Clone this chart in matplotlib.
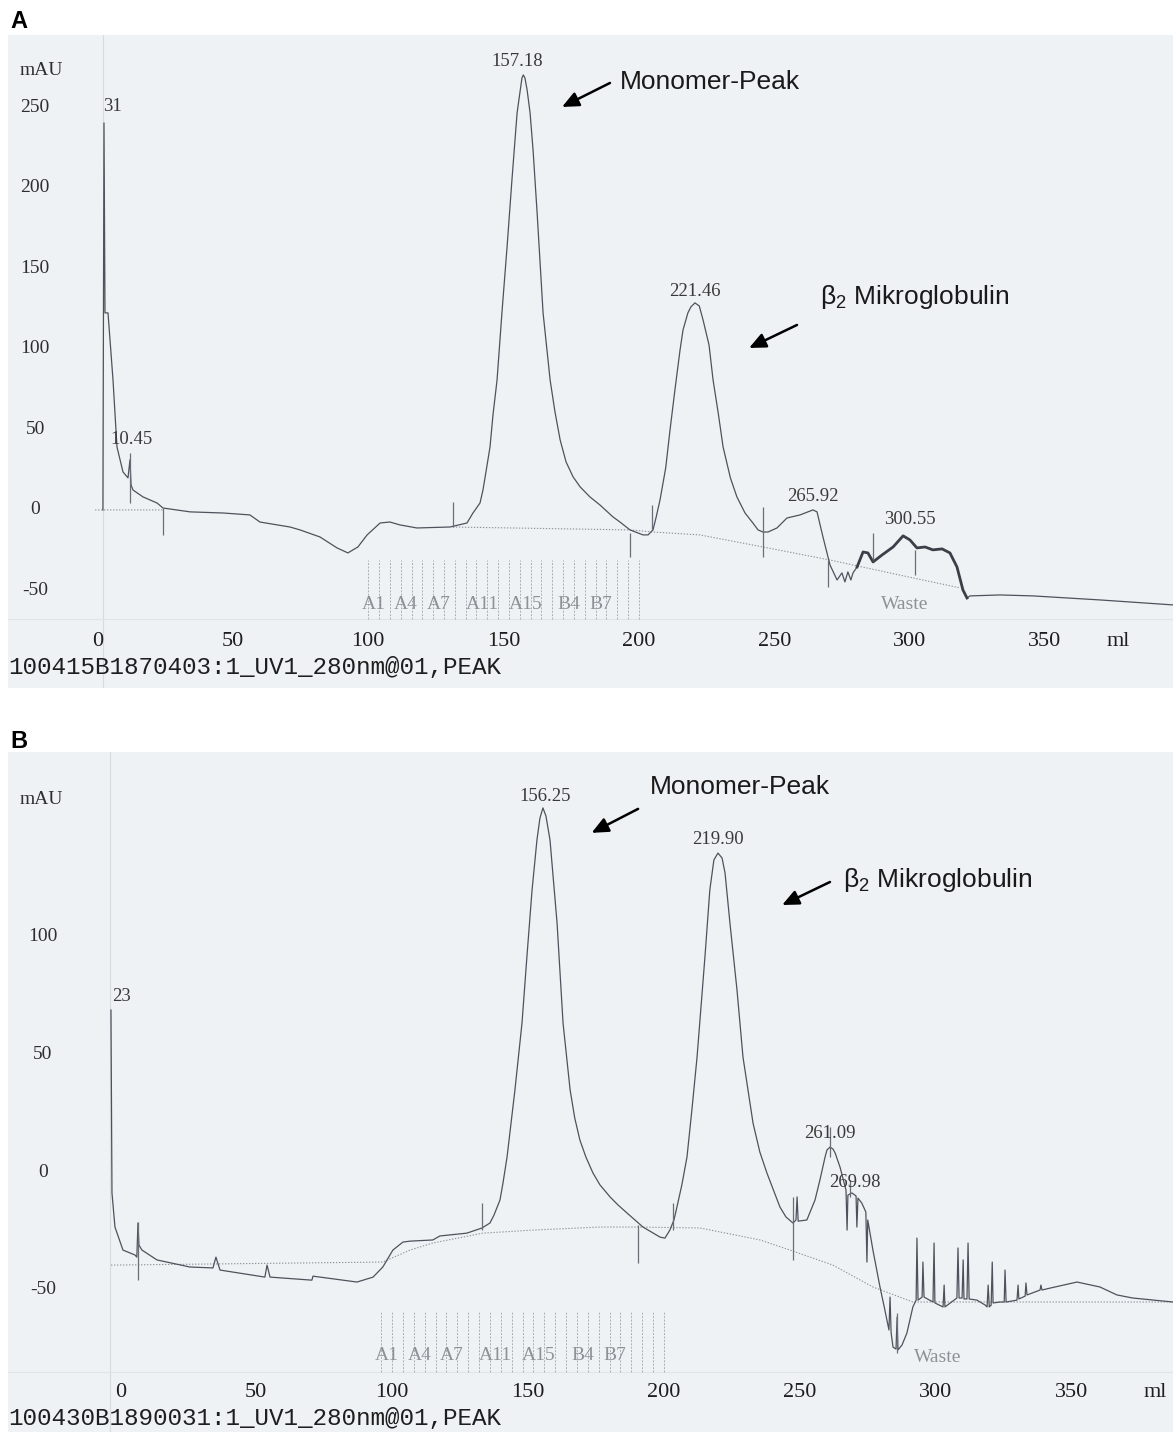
import numpy as np
import matplotlib
matplotlib.use("Agg")
import matplotlib.pyplot as plt

plt.rcParams['mathtext.fontset'] = 'custom'
plt.rcParams['mathtext.rm'] = 'Liberation Sans'

SERIF = 'Liberation Serif'
SANS = 'Liberation Sans'
MONO = 'Liberation Mono'

BG = '#eff2f4'
TRACE = '#4e525c'
BASE = '#8d929b'

# ---- panel A: UV 280 nm trace, (ml, mAU) ----
a_trace = [
    (2.0, 0.0), (2.4, 240.4), (2.77, 122.4), (3.88, 122.4), (5.73, 80.7), (7.2, 39.1),
    (9.42, 23.6), (11.27, 19.9), (12.0, 31.1), (12.4, 15.5), (13.1, 12.4), (16.8, 8.1),
    (22.0, 4.3), (24.2, 1.2), (34.2, -1.2), (46.4, -1.9), (56.3, -3.1), (60.0, -7.5),
    (71.1, -10.6), (74.8, -12.4), (82.2, -16.8), (88.5, -23.6), (92.5, -26.7), (96.2, -23.0),
    (99.6, -15.5), (104.4, -8.1), (108.0, -7.5), (111.7, -9.3), (118.0, -11.2), (130.2, -10.6),
    (136.5, -8.1), (138.7, -1.9), (141.3, 4.3), (142.4, 12.4), (143.5, 23.6), (145.0, 39.1),
    (146.1, 59.0), (147.6, 80.7), (149.4, 122.4), (151.3, 163.4), (153.1, 205.0),
    (155.0, 246.6), (156.1, 259.9), (156.8, 268.3), (157.3, 270.2), (157.9, 268.3),
    (158.7, 260.9), (159.8, 246.6), (160.9, 223.6), (162.4, 184.5), (164.6, 122.4),
    (167.2, 80.7), (169.0, 60.9), (170.9, 43.5), (173.1, 29.8), (175.7, 20.5), (178.3, 14.3),
    (181.9, 8.1), (185.6, 3.1), (190.4, -4.3), (193.0, -7.5), (196.7, -12.4), (201.5, -15.5),
    (203.4, -15.5), (205.2, -12.4), (206.3, -5.0), (207.8, 6.2), (209.9, 26.1), (211.5, 49.7),
    (213.3, 74.5), (215.2, 99.4), (216.3, 111.8), (218.1, 122.4), (219.2, 126.1),
    (220.7, 128.6), (222.3, 126.7), (223.7, 118.0), (225.9, 102.5), (227.4, 80.7),
    (229.3, 60.2), (231.1, 39.1), (233.8, 19.9), (236.2, 8.1), (239.2, -1.9), (242.1, -8.1),
    (244.0, -12.4), (245.8, -13.7), (247.7, -13.7), (251.0, -11.2), (254.7, -5.0),
    (259.5, -3.1), (264.3, 0.0), (265.8, -1.2), (268.0, -16.8), (270.6, -34.2),
    (273.2, -43.5), (275.0, -39.1), (276.1, -44.7), (277.2, -38.5), (278.3, -43.5),
    (279.1, -39.1), (280.6, -35.4), (282.8, -26.1), (284.6, -26.7), (286.5, -32.3),
    (289.8, -28.0), (293.9, -23.0), (297.6, -16.1), (300.1, -18.6), (302.7, -23.6),
    (305.7, -23.0), (308.6, -24.8), (312.0, -24.2), (314.9, -26.7), (317.5, -35.4),
    (319.7, -49.7), (321.2, -54.7), (322.3, -53.4), (333.4, -52.8), (345.6, -53.4),
    (370.3, -55.9), (397.3, -59.0),
]
a_base_ml = [-0.9, 24.2, np.nan, 131.3, 196.7, 205.2, 222.5, 245.8, 270.6, 301.2, 318.6]
a_base_mau = [0.0, 0.0, np.nan, -10.6, -12.4, -13.7, -15.5, -23.0, -31.1, -42.2, -48.4]
a_marks_ml = [12.0, 24.2, 131.3, 196.7, 204.8, 245.8, 269.9, 286.5, 302.0]
a_marks_lo = [4.3, -15.5, -10.6, -29.2, -12.4, -29.2, -47.8, -31.1, -40.4]
a_marks_hi = [35.4, 1.2, 5.0, -14.3, 3.1, 1.9, -31.1, -14.3, -24.8]
a_peak_text = ["31", "10.45", "157.18", "221.46", "265.92", "300.55"]
a_peak_ml = [5.4, 12.7, 155.0, 220.7, 264.3, 300.1]
a_peak_mau = [250.3, 43.5, 278.3, 135.4, 8.1, -6.2]
a_frac_lines = list(range(100, 201, 4))
a_yticks = [250, 200, 150, 100, 50, 0, -50]

# ---- panel B ----
b_trace = [
    (-3.42, 68.9), (-3.05, -8.9), (-1.95, -23.4), (0.99, -33.2), (5.41, -35.3), (6.1, -36.2),
    (6.51, -21.7), (6.88, -31.1), (7.98, -33.2), (13.5, -37.4), (25.6, -40.4), (34.1, -40.8),
    (35.2, -36.2), (36.7, -41.7), (53.2, -44.7), (54.0, -39.6), (55.1, -44.7), (70.5, -46.0),
    (70.9, -44.3), (87.1, -46.8), (93.0, -44.7), (96.6, -40.4), (100.3, -33.2), (104.0, -29.8),
    (106.6, -29.4), (115.0, -28.9), (117.6, -27.2), (127.5, -26.0), (133.1, -23.8),
    (136.0, -21.7), (137.5, -18.3), (139.7, -11.9), (140.8, -4.7), (142.3, 6.4), (143.7, 20.0),
    (145.2, 34.9), (147.8, 63.4), (149.6, 91.5), (151.5, 120.0), (152.6, 132.8),
    (153.3, 141.3), (154.4, 150.6), (155.5, 154.9), (156.6, 151.5), (158.1, 141.3),
    (159.2, 126.4), (160.7, 105.9), (162.9, 63.4), (165.5, 34.9), (167.2, 23.0), (169.1, 13.6),
    (171.3, 6.4), (173.9, -0.4), (176.5, -5.5), (180.2, -10.6), (183.1, -14.0), (186.4, -17.4),
    (192.3, -23.4), (198.6, -27.7), (200.4, -28.1), (202.2, -24.7), (203.7, -20.4),
    (204.8, -14.9), (206.6, -5.5), (208.5, 6.4), (210.3, 26.4), (212.2, 48.9), (215.1, 91.5),
    (216.9, 120.0), (218.4, 132.8), (219.9, 135.7), (221.4, 133.6), (222.5, 127.2),
    (224.3, 105.9), (226.9, 77.4), (229.1, 48.9), (232.8, 20.8), (235.3, 8.5), (237.9, -0.4),
    (242.7, -14.9), (244.9, -19.1), (247.5, -21.7), (248.6, -20.4), (249.0, -10.6),
    (249.4, -20.9), (252.6, -20.4), (255.6, -11.9), (257.4, -3.4), (259.3, 6.4), (260.0, 9.4),
    (261.1, 10.6), (262.2, 9.8), (263.0, 8.1), (264.8, 2.1), (267.0, -7.7), (267.4, -24.7),
    (267.7, -9.8), (269.2, -8.9), (270.7, -10.2), (271.0, -23.4), (271.4, -11.1),
    (272.8, -13.2), (274.3, -17.0), (274.7, -38.3), (275.0, -20.4), (276.9, -33.2),
    (279.5, -48.9), (281.3, -58.7), (282.8, -67.2), (283.2, -53.2), (283.6, -68.5),
    (284.3, -74.5), (285.4, -75.3), (285.8, -61.7), (286.1, -75.7), (287.6, -73.6),
    (289.4, -68.5), (291.6, -57.4), (292.8, -54.5), (293.1, -28.1), (293.5, -54.5),
    (295.0, -53.2), (295.3, -38.3), (295.7, -53.2), (299.0, -55.3), (299.4, -30.2),
    (299.7, -55.7), (302.7, -57.4), (303.1, -48.1), (303.4, -57.4), (307.8, -53.6),
    (308.2, -32.3), (308.6, -53.6), (309.7, -53.6), (310.1, -37.4), (310.4, -54.0),
    (311.5, -54.0), (311.9, -30.2), (312.3, -54.0), (315.2, -54.5), (318.2, -56.6),
    (318.9, -57.4), (319.3, -48.1), (319.7, -57.4), (320.4, -56.6), (320.8, -38.3),
    (321.1, -55.7), (323.7, -55.3), (325.2, -55.3), (325.5, -41.7), (325.9, -55.3),
    (329.9, -54.5), (330.3, -48.1), (330.6, -54.0), (332.9, -52.8), (333.2, -47.2),
    (333.6, -52.3), (338.4, -50.2), (338.7, -48.1), (339.1, -50.2), (342.0, -49.4),
    (352.0, -46.8), (360.4, -48.9), (366.7, -52.3), (372.5, -53.6), (387.3, -55.3),
]
b_base_ml = [-3.4, 96.6, 106.6, 115.0, 133.4, 151.8, 176.5, 190.1, 213.3, 235.4, 246.4, 262.2,
             276.9, 291.6, 387.3]
b_base_mau = [-39.6, -38.3, -33.2, -30.2, -26.0, -24.7, -23.4, -23.4, -23.8, -28.9, -33.2, -39.6,
              -48.9, -55.3, -55.3]
b_marks_ml = [6.5, 133.1, 190.5, 203.3, 247.5, 261.1, 268.4, 285.8]
b_marks_lo = [-46.0, -24.7, -38.7, -24.7, -37.4, 6.4, -10.6, -77.0]
b_marks_hi = [-21.3, -13.2, -22.6, -13.2, -10.6, 19.1, -3.4, -60.0]
b_peak_text = ["23", "156.25", "219.90", "261.09", "269.98"]
b_peak_ml = [0.3, 156.2, 219.9, 261.1, 270.3]
b_peak_mau = [74.5, 159.6, 141.3, 16.6, -4.3]
b_frac_lines = list(range(96, 201, 4))
b_yticks = [100, 50, 0, -50]

xticks = [0, 50, 100, 150, 200, 250, 300, 350]
frac_names = ["A1", "A4", "A7", "A11", "A15", "B4", "B7"]
frac_index = [1, 4, 7, 11, 15, 19, 22]

ARROW = dict(arrowstyle='-|>,head_length=1.0,head_width=0.45', color='black', lw=1.8,
             shrinkA=0, shrinkB=0)


def draw_panel(ax, trace, base_ml, base_mau, marks_ml, marks_lo, marks_hi,
               peak_text, peak_ml, peak_mau, frac_lines, yticks, lay):
    ml = np.array([p[0] for p in trace])
    mau = np.array([p[1] for p in trace])
    ax.set_facecolor(BG)
    ax.set_xlim(lay['xlim'])
    ax.set_ylim(lay['ylim'])
    for s in ax.spines.values():
        s.set_visible(False)
    ax.set_xticks([])
    ax.set_yticks([])

    # faint axis remnants of the printout
    ax.axvline(lay['axis_x'], color='#d6dbe0', lw=0.8, zorder=1)
    ax.axhline(lay['frac_bottom'], color='#dfe4e8', lw=0.8, zorder=1)

    ax.plot(base_ml, base_mau, color=BASE, lw=0.8, ls=(0, (1.2, 1.5)), zorder=2)
    ax.plot(ml, mau, color=TRACE, lw=0.9, zorder=3)
    if lay.get('bold'):
        sel = (ml >= lay['bold'][0]) & (ml <= lay['bold'][1])
        ax.plot(ml[sel], mau[sel], color='#3c3f47', lw=2.0, zorder=3)

    ax.vlines(marks_ml, marks_lo, marks_hi, color='#6a6e77', lw=0.9, zorder=3)

    for t, x, y in zip(peak_text, peak_ml, peak_mau):
        ax.text(x, y, t, family=SERIF, fontsize=13.5, color='#3a3a3a',
                ha='center', va='center', zorder=4)

    # fraction collector marks
    ax.vlines(frac_lines, lay['frac_bottom'], lay['frac_top'], color='#a9aeb5',
              lw=0.7, ls=(0, (2, 1.5)), zorder=2)
    for name, k in zip(frac_names, frac_index):
        ax.text(frac_lines[0] + 4 * (k - 1) + 2, lay['frac_label_y'], name, family=SERIF,
                fontsize=14, color='#8e9298', ha='center', va='center', zorder=4)
    ax.text(lay['waste'][0], lay['waste'][1], "Waste", family=SERIF, fontsize=14,
            color='#8e9298', ha='center', va='center')

    for v in yticks:
        ax.text(lay['ylab_x'], v, str(v), family=SERIF, fontsize=14, color='#2e2e2e',
                ha='center', va='center')
    ax.text(lay['mau'][0], lay['mau'][1], "mAU", family=SERIF, fontsize=14, color='#2e2e2e',
            ha='left', va='center')
    for v in xticks:
        ax.text(v, lay['xlab_y'], str(v), family=SERIF, fontsize=16, color='#1e1e1e',
                ha='center', va='center')
    ax.text(lay['ml'][0], lay['xlab_y'], "ml", family=SERIF, fontsize=16, color='#1e1e1e',
            ha='center', va='center')

    # annotations added on top of the printout
    ax.text(lay['mono_text'][0], lay['mono_text'][1], "Monomer-Peak", family=SANS,
            fontsize=19, color='#1a1a1a', ha='left', va='center')
    ax.annotate("", xy=lay['mono_head'], xytext=lay['mono_tail'], arrowprops=ARROW)
    ax.text(lay['b2_text'][0], lay['b2_text'][1], r"β$_2$ Mikroglobulin", family=SANS,
            fontsize=19, color='#1a1a1a', ha='left', va='center')
    ax.annotate("", xy=lay['b2_head'], xytext=lay['b2_tail'], arrowprops=ARROW)


W, H = 1173, 1432
fig = plt.figure(figsize=(W / 100, H / 100), dpi=100)
fig.patch.set_facecolor('white')

axA = fig.add_axes([8 / W, 1 - 688 / H, 1165 / W, 653 / H])
draw_panel(axA, a_trace, a_base_ml, a_base_mau, a_marks_ml, a_marks_lo, a_marks_hi,
           a_peak_text, a_peak_ml, a_peak_mau, a_frac_lines, a_yticks,
           dict(xlim=(-33.06, 397.3), ylim=(-110.6, 295.0), axis_x=2.0,
                frac_bottom=-68, frac_top=-31, frac_label_y=-59, waste=(298.3, -59.0),
                ylab_x=-23.0, mau=(-28.6, 273), xlab_y=-82, ml=(377, -82),
                bold=(280, 322),
                mono_text=(193.0, 265.8), mono_tail=(189.3, 265.2), mono_head=(171.6, 250.3),
                b2_text=(266.9, 132.3), b2_tail=(258.4, 114.9), b2_head=(240.7, 100.6)))
axA.text(-33.06, -98, "100415B1870403:1_UV1_280nm@01,PEAK", family=MONO, fontsize=17.5,
         color='#1e1e1e', ha='left', va='center')

axB = fig.add_axes([8 / W, 0, 1165 / W, 680 / H])
draw_panel(axB, b_trace, b_base_ml, b_base_mau, b_marks_ml, b_marks_lo, b_marks_hi,
           b_peak_text, b_peak_ml, b_peak_mau, b_frac_lines, b_yticks,
           dict(xlim=(-41.3, 387.3), ylim=(-110.6, 178.7), axis_x=-3.6,
                frac_bottom=-85, frac_top=-59, frac_label_y=-78, waste=(300.8, -78.7),
                ylab_x=-28.5, mau=(-36.9, 158.3), xlab_y=-94, ml=(380.7, -94),
                mono_text=(194.9, 163.8), mono_tail=(190.5, 154.5), mono_head=(173.4, 144.3),
                b2_text=(265.9, 124.2), b2_tail=(261.1, 123.4), b2_head=(243.5, 113.6)))
axB.text(-41.3, -105, "100430B1890031:1_UV1_280nm@01,PEAK", family=MONO, fontsize=17.5,
         color='#1e1e1e', ha='left', va='center')

fig.text(10 / W, 1 - 21 / H, "A", family=SANS, fontsize=17, fontweight='bold',
         ha='left', va='center')
fig.text(10 / W, 1 - 741 / H, "B", family=SANS, fontsize=17, fontweight='bold',
         ha='left', va='center')

fig.savefig("out.png", dpi=100)
